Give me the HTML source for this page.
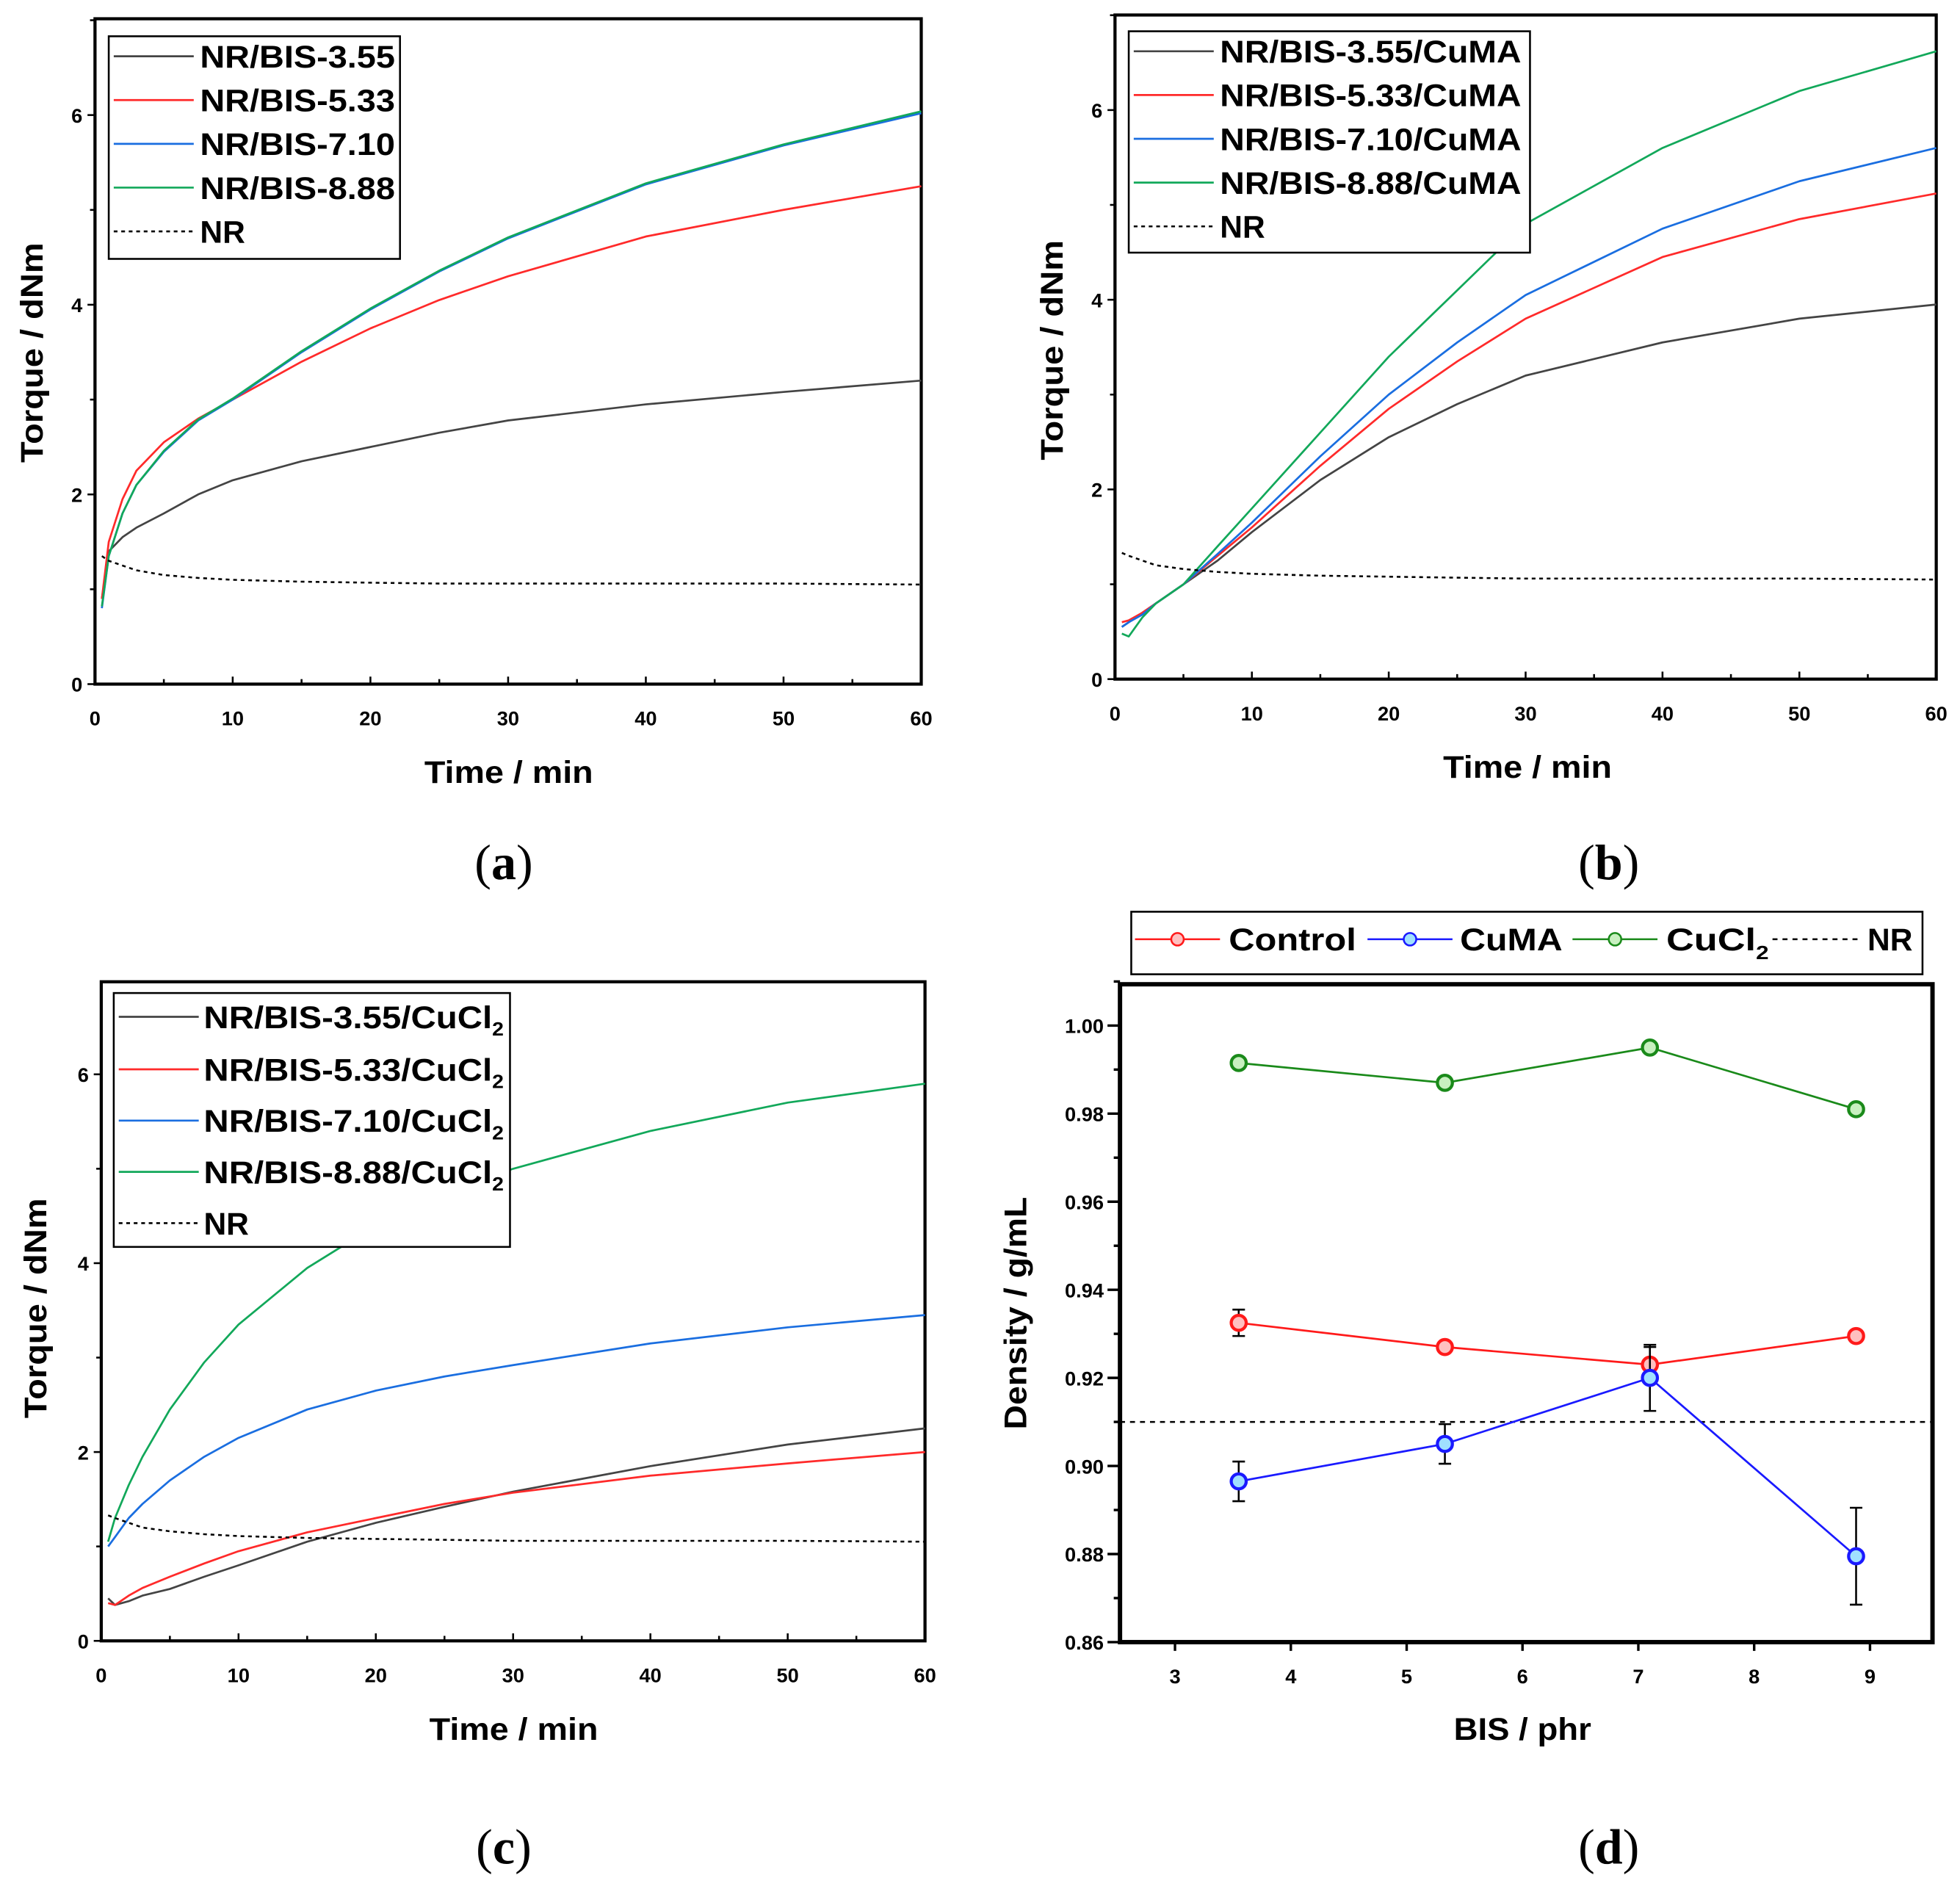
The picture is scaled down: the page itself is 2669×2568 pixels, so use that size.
<!DOCTYPE html>
<html><head><meta charset="utf-8"><style>
html,body{margin:0;padding:0;background:#fff}
svg{display:block}
text{font-family:"Liberation Sans",Arial,sans-serif}
.tk{font-size:16px}
.ti{font-size:25px;font-weight:bold}
.lg{font-size:25px;font-weight:bold}
.pl{font-family:"Liberation Serif",serif;font-size:40px}
</style></head><body>
<svg id="fig" width="2669" height="2568" viewBox="0 0 1568 1508" preserveAspectRatio="none" xmlns="http://www.w3.org/2000/svg"></svg>
<script>
// ---- data ----
const times=[0.5,1,2,3,5,7.5,10,15,20,25,30,40,50,60];
const a355=[0.9,1.4,1.55,1.65,1.8,2.0,2.15,2.35,2.5,2.65,2.78,2.95,3.08,3.2];
const a533=[0.9,1.5,1.95,2.25,2.55,2.8,3.0,3.4,3.75,4.05,4.3,4.72,5.0,5.25];
const a710=[0.8,1.35,1.8,2.1,2.45,2.78,3.0,3.5,3.95,4.35,4.7,5.27,5.68,6.02];
const a888=[0.82,1.35,1.8,2.1,2.46,2.79,3.01,3.51,3.96,4.36,4.71,5.28,5.69,6.04];
const aNR=[1.35,1.3,1.25,1.2,1.15,1.12,1.1,1.08,1.07,1.06,1.06,1.06,1.06,1.05];
const b355=[0.55,0.6,0.7,0.8,1.0,1.25,1.55,2.1,2.55,2.9,3.2,3.55,3.8,3.95];
const b533=[0.6,0.62,0.7,0.8,1.0,1.3,1.6,2.25,2.85,3.35,3.8,4.45,4.85,5.12];
const b710=[0.55,0.6,0.68,0.8,1.0,1.32,1.65,2.35,3.0,3.55,4.05,4.75,5.25,5.6];
const b888=[0.48,0.45,0.65,0.8,1.0,1.4,1.8,2.6,3.4,4.1,4.8,5.6,6.2,6.62];
const bNR=[1.33,1.3,1.25,1.2,1.16,1.13,1.11,1.09,1.08,1.07,1.06,1.06,1.06,1.05];
const c355=[0.45,0.38,0.42,0.48,0.55,0.68,0.8,1.05,1.25,1.42,1.58,1.85,2.08,2.25];
const c533=[0.4,0.38,0.48,0.56,0.68,0.82,0.95,1.15,1.3,1.45,1.57,1.75,1.88,2.0];
const c710=[1.0,1.1,1.3,1.45,1.7,1.95,2.15,2.45,2.65,2.8,2.92,3.15,3.32,3.45];
const c888=[1.05,1.3,1.65,1.95,2.45,2.95,3.35,3.95,4.4,4.75,5.0,5.4,5.7,5.9];
const cNR=[1.33,1.3,1.25,1.2,1.16,1.13,1.11,1.09,1.08,1.07,1.06,1.06,1.06,1.05];
const xTicks=[0,10,20,30,40,50,60];
const yTicks=[0,2,4,6];
const bis=[3.55,5.33,7.10,8.88];
const dControl=[0.9325,0.927,0.923,0.9295];
const dControlErr=[0.003,0.001,0.004,0.001];
const dCuMA=[0.8965,0.905,0.920,0.8795];
const dCuMAErr=[0.0045,0.0045,0.0075,0.011];
const dCuCl2=[0.9915,0.987,0.995,0.981];
const dCuCl2Err=[0.001,0.001,0.001,0.001];
const dNR=0.91;
const dxTicks=[3,4,5,6,7,8,9];
const dyTicks=[0.86,0.88,0.90,0.92,0.94,0.96,0.98,1.00];

const NS="http://www.w3.org/2000/svg";
const svg=document.getElementById('fig');
function el(tag,attrs,parent,txt){const e=document.createElementNS(NS,tag);for(const k in attrs)e.setAttribute(k,attrs[k]);if(txt!==undefined)e.textContent=txt;(parent||svg).appendChild(e);return e;}

const BLK='#444',RED='#ff2a2a',BLU='#1a6ee0',GRN='#12a85a';

function torquePanel(id,box,series,legend,titlePos,ytitlePos){
  const g=el('g',{});
  
  
  const X=v=>box.x0+(v-0)/60*(box.x1-box.x0);
  const Y=v=>box.y0-(v)/6*(box.y0-box.y6);
  const f=el('rect',{x:box.x0,y:box.top,width:box.x1-box.x0,height:box.y0-box.top,fill:'none',stroke:'#000','stroke-width':2.5},g);
  
  
  for(let v=0;v<=60;v+=5){const major=v%10===0;el('line',{x1:X(v),x2:X(v),y1:box.y0,y2:box.y0-(major?6:4),stroke:'#000','stroke-width':1.5},g);}
  xTicks.forEach(v=>{const t=el('text',{x:X(v),y:box.y0+33,'text-anchor':'middle',class:'tk','font-weight':'bold'},g,String(v));});
  for(let v=0;v<=7;v+=1){if(Y(v)<box.top-1)break;const major=v%2===0;el('line',{x1:box.x0,x2:box.x0-(major?6:4),y1:Y(v),y2:Y(v),stroke:'#000','stroke-width':1.5},g);}
  yTicks.forEach(v=>{const t=el('text',{x:box.x0-10,y:Y(v)+6,'text-anchor':'end',class:'tk','font-weight':'bold'},g,String(v));});
  series.forEach(s=>{
    const d=times.map((t,i)=>(i?'L':'M')+X(t).toFixed(1)+','+Y(s.v[i]).toFixed(1)).join('');
    const p=el('path',{d:d,fill:'none',stroke:s.c,'stroke-width':s.dash?1.5:1.6,'stroke-dasharray':s.dash?'3,3':'none','stroke-linejoin':'round'},g);
    
    
  });
  const lg=el('g',{},g);
  
  
  el('rect',{x:legend.x,y:legend.y,width:legend.w,height:legend.h,fill:'#fff',stroke:'#000','stroke-width':1.5},lg);
  series.forEach((s,i)=>{
    const yy=legend.ys[i];
    el('line',{x1:legend.x+4,x2:legend.x+68,y1:yy,y2:yy,stroke:s.c,'stroke-width':s.dash?1.5:1.6,'stroke-dasharray':s.dash?'3,3':'none'},lg);
    const t=el('text',{x:legend.tx,y:yy+9,class:'lg'},lg);
    
    
    if(s.sub){t.appendChild(document.createTextNode(s.label));el('tspan',{'font-size':15,dy:6},t,'2');}
    else t.textContent=s.label;
    if(s.label!=='NR'){t.setAttribute('textLength',legend.tl);t.setAttribute('lengthAdjust','spacingAndGlyphs');}
  });
  const xt=el('text',{x:titlePos[0],y:titlePos[1],'text-anchor':'middle',class:'ti',textLength:135,lengthAdjust:'spacingAndGlyphs'},g,'Time / min');
  
  
  const yt=el('text',{x:ytitlePos[0],y:ytitlePos[1],'text-anchor':'middle',class:'ti',textLength:176,lengthAdjust:'spacingAndGlyphs',transform:`rotate(-90 ${ytitlePos[0]} ${ytitlePos[1]})`},g,'Torque / dNm');
  
  
}

torquePanel('a',{x0:76,x1:737,y0:547,y6:92,top:15},[
 {v:a355,c:BLK,label:'NR/BIS-3.55',name:'line-bis-3-55'},
 {v:a533,c:RED,label:'NR/BIS-5.33',name:'line-bis-5-33'},
 {v:a710,c:BLU,label:'NR/BIS-7.10',name:'line-bis-7-10'},
 {v:a888,c:GRN,label:'NR/BIS-8.88',name:'line-bis-8-88'},
 {v:aNR,c:'#000',dash:true,label:'NR',name:'line-nr'}],
 {x:87,y:29,w:233,h:178,tx:160,tl:156,ys:[45,80,115,150,185]},[407,626],[34,282]);

torquePanel('b',{x0:892,x1:1549,y0:543,y6:88,top:12},[
 {v:b355,c:BLK,label:'NR/BIS-3.55/CuMA',name:'line-bis-3-55-cuma'},
 {v:b533,c:RED,label:'NR/BIS-5.33/CuMA',name:'line-bis-5-33-cuma'},
 {v:b710,c:BLU,label:'NR/BIS-7.10/CuMA',name:'line-bis-7-10-cuma'},
 {v:b888,c:GRN,label:'NR/BIS-8.88/CuMA',name:'line-bis-8-88-cuma'},
 {v:bNR,c:'#000',dash:true,label:'NR',name:'line-nr'}],
 {x:903,y:25,w:321,h:177,tx:976,tl:241,ys:[41,76,111,146,181]},[1222,622],[850,280]);

torquePanel('c',{x0:81,x1:740,y0:1312,y6:859,top:785},[
 {v:c355,c:BLK,label:'NR/BIS-3.55/CuCl',sub:true,name:'line-bis-3-55-cucl2'},
 {v:c533,c:RED,label:'NR/BIS-5.33/CuCl',sub:true,name:'line-bis-5-33-cucl2'},
 {v:c710,c:BLU,label:'NR/BIS-7.10/CuCl',sub:true,name:'line-bis-7-10-cucl2'},
 {v:c888,c:GRN,label:'NR/BIS-8.88/CuCl',sub:true,name:'line-bis-8-88-cucl2'},
 {v:cNR,c:'#000',dash:true,label:'NR',name:'line-nr'}],
 {x:91,y:794,w:317,h:203,tx:163,tl:240,ys:[813,855,896,937,978]},[411,1391],[37,1046]);

// ---- panel d ----
(function(){
  const g=el('g',{});
  
  
  const x0=896,x1=1546,top=787,bot=1313;
  const X=v=>940+(v-3)/6*(1496-940);
  const Y=v=>1313-(v-0.86)/0.14*(1313-820);
  const f=el('rect',{x:x0,y:top,width:x1-x0,height:bot-top,fill:'none',stroke:'#000','stroke-width':3.5},g);
  
  
  dxTicks.forEach(v=>{el('line',{x1:X(v),x2:X(v),y1:bot,y2:bot+7,stroke:'#000','stroke-width':2},g);
    const t=el('text',{x:X(v),y:bot+33,'text-anchor':'middle',class:'tk','font-weight':'bold','font-size':'17px'},g,String(v));
    });
  for(let i=0;i<=15;i++){const v=0.86+i*0.01;const major=i%2===0;el('line',{x1:x0,x2:x0-(major?10:5),y1:Y(v),y2:Y(v),stroke:'#000','stroke-width':2},g);}
  dyTicks.forEach(v=>{const t=el('text',{x:x0-13,y:Y(v)+6,'text-anchor':'end',class:'tk','font-weight':'bold','font-size':'17px'},g,v.toFixed(2));
    });
  const nr=el('line',{x1:x0,x2:x1,y1:Y(dNR),y2:Y(dNR),stroke:'#000','stroke-width':1.5,'stroke-dasharray':'4,4'},g);
  
  
  const ser=[{v:dCuCl2,e:dCuCl2Err,c:'#1a8a1a',fill:'#c8f0c0',n:'cucl2'},{v:dControl,e:dControlErr,c:'#ff1a1a',fill:'#ffc0c0',n:'control'},{v:dCuMA,e:dCuMAErr,c:'#1a1aff',fill:'#a0e0ff',n:'cuma'}];
  ser.forEach(s=>{
    const sg=el('g',{},g);
    
    
    el('path',{d:bis.map((b,i)=>(i?'L':'M')+X(b)+','+Y(s.v[i])).join(''),fill:'none',stroke:s.c,'stroke-width':1.6},sg);
    bis.forEach((b,i)=>{
      el('line',{x1:X(b),x2:X(b),y1:Y(s.v[i]+s.e[i]),y2:Y(s.v[i]-s.e[i]),stroke:'#000','stroke-width':1.5},sg);
      el('line',{x1:X(b)-5,x2:X(b)+5,y1:Y(s.v[i]+s.e[i]),y2:Y(s.v[i]+s.e[i]),stroke:'#000','stroke-width':1.5},sg);
      el('line',{x1:X(b)-5,x2:X(b)+5,y1:Y(s.v[i]-s.e[i]),y2:Y(s.v[i]-s.e[i]),stroke:'#000','stroke-width':1.5},sg);
      const c=el('circle',{cx:X(b),cy:Y(s.v[i]),r:6,fill:s.fill,stroke:s.c,'stroke-width':2.5},sg);
      
      
    });
  });
  const xt=el('text',{x:1218,y:1391,'text-anchor':'middle',class:'ti',textLength:110,lengthAdjust:'spacingAndGlyphs'},g,'BIS / phr');
  
  const yt=el('text',{x:821,y:1050,'text-anchor':'middle',class:'ti',textLength:186,lengthAdjust:'spacingAndGlyphs',transform:'rotate(-90 821 1050)'},g,'Density / g/mL');
  
  // legend
  const lg=el('g',{},g);
  
  
  el('rect',{x:905,y:729,width:633,height:50,fill:'#fff',stroke:'#000','stroke-width':1.5},lg);
  const items=[{x:908,c:'#ff1a1a',f:'#ffc0c0',t:'Control',tx:983,tl:102},{x:1094,c:'#1a1aff',f:'#a0e0ff',t:'CuMA',tx:1168,tl:82},{x:1258,c:'#1a8a1a',f:'#c8f0c0',t:'CuCl',tx:1333,sub:true,tl:82}];
  items.forEach(it=>{
    el('line',{x1:it.x,x2:it.x+68,y1:751,y2:751,stroke:it.c,'stroke-width':1.5},lg);
    el('circle',{cx:it.x+34,cy:751,r:5,fill:it.f,stroke:it.c,'stroke-width':1.5},lg);
    const t=el('text',{x:it.tx,y:760,class:'lg',textLength:it.tl,lengthAdjust:'spacingAndGlyphs'},lg,it.t);
    
    if(it.sub)el('tspan',{'font-size':15,dy:7},t,'2');
  });
  el('line',{x1:1418,x2:1488,y1:751,y2:751,stroke:'#000','stroke-width':1.5,'stroke-dasharray':'4,4'},lg);
  const nt=el('text',{x:1494,y:760,class:'lg'},lg,'NR');
  
})();

[['(a)',403,703],['(b)',1287,703],['(c)',403,1490],['(d)',1287,1490]].forEach(p=>{
  const t=el('text',{x:p[1],y:p[2],'text-anchor':'middle',class:'pl'});
  
  
  t.appendChild(document.createTextNode('('));
  el('tspan',{'font-weight':'bold'},t,p[0][1]);
  t.appendChild(document.createTextNode(')'));
});
</script>
</body></html>
